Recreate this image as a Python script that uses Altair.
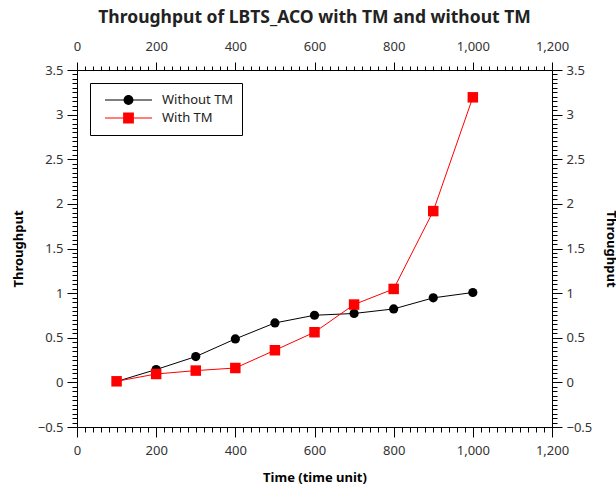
import altair as alt
import pandas as pd

# ---- data ----
times = [100, 200, 300, 400, 500, 600, 700, 800, 900, 1000]
without_tm = [0.01, 0.144, 0.289, 0.487, 0.666, 0.752, 0.772, 0.823, 0.947, 1.007]
with_tm = [0.012, 0.094, 0.132, 0.161, 0.36, 0.562, 0.872, 1.047, 1.919, 3.194]
series_names = ["Without TM", "With TM"]
series_colors = ["black", "red"]

x_ticks = list(range(0, 1201, 20))
y_ticks = [round(-0.5 + 0.05 * i, 2) for i in range(81)]

rows = []
for t, v in zip(times, without_tm):
    rows.append({"time": t, "value": v, "series": series_names[0]})
for t, v in zip(times, with_tm):
    rows.append({"time": t, "value": v, "series": series_names[1]})
df = pd.DataFrame(rows)

FONT = "Noto Sans"
x_scale = alt.Scale(domain=[0, 1200], nice=False, zero=False)
y_scale = alt.Scale(domain=[-0.5, 3.5], nice=False, zero=False)

x_major = "datum.value % 200 === 0"
y_major = "abs(datum.value * 2 - round(datum.value * 2)) < 0.001"


def x_axis(orient, title, major_len, minor_len, label_pad, title_pad):
    return alt.Axis(
        orient=orient,
        values=x_ticks,
        labelExpr=f"{x_major} ? format(datum.value, ',') : ''",
        tickSize={"condition": {"test": x_major, "value": major_len}, "value": minor_len},
        labelOverlap=False,
        labelFlush=False,
        grid=False,
        domainColor="black",
        tickColor="black",
        labelColor="#333333",
        labelFont=FONT,
        labelFontSize=13,
        labelPadding=label_pad,
        title=title,
        titleFont=FONT,
        titleFontSize=13,
        titleFontWeight="bold",
        titleColor="black",
        titlePadding=title_pad,
    )


def y_axis(orient, title):
    return alt.Axis(
        orient=orient,
        values=y_ticks,
        labelExpr=f"{y_major} ? format(datum.value, '~g') : ''",
        tickSize={"condition": {"test": y_major, "value": 10}, "value": 5},
        labelOverlap=False,
        labelFlush=False,
        grid=False,
        domainColor="black",
        tickColor="black",
        labelColor="#333333",
        labelFont=FONT,
        labelFontSize=13,
        labelPadding=4,
        title=title,
        titleFont=FONT,
        titleFontSize=13,
        titleFontWeight="bold",
        titleColor="black",
        titlePadding=12,
    )


base = alt.Chart(df)

layers = []
markers = [("circle", 85), ("square", 110)]
for i, name in enumerate(series_names):
    sub = base.transform_filter(alt.datum.series == name)
    x_ax = x_axis("bottom", "Time (time unit)", 10, 5, 7, 14) if i == 0 else None
    y_ax = y_axis("left", "Throughput") if i == 0 else None
    layers.append(
        sub.mark_line(strokeWidth=1, color=series_colors[i]).encode(
            x=alt.X("time:Q", scale=x_scale, axis=x_ax),
            y=alt.Y("value:Q", scale=y_scale, axis=y_ax),
        )
    )
for i, name in enumerate(series_names):
    sub = base.transform_filter(alt.datum.series == name)
    layers.append(
        sub.mark_point(filled=True, opacity=1, shape=markers[i][0], size=markers[i][1],
                       color=series_colors[i]).encode(
            x=alt.X("time:Q", scale=x_scale, axis=None),
            y=alt.Y("value:Q", scale=y_scale, axis=None),
        )
    )

mirror = base.mark_point(opacity=0).encode(
    x=alt.X("time:Q", scale=x_scale, axis=x_axis("top", None, 8, 4, 9, 4)),
    y=alt.Y("value:Q", scale=y_scale, axis=y_axis("right", "Throughput")),
)
layers.append(mirror)

# legend symbols: a thin filled bar (the line) plus the marker
circle_path = ("M-1,-0.022H1V0.022H-1Z"
               "M0.21,0A0.21,0.21,0,1,1,-0.21,0A0.21,0.21,0,1,1,0.21,0Z")
square_path = ("M-1,-0.022H1V0.022H-1Z"
               "M-0.23,-0.23H0.23V0.23H-0.23Z")


def legend_def():
    return alt.Legend(
        title=None,
        orient="none",
        legendX=13,
        legendY=13,
        strokeColor="black",
        fillColor="white",
        padding=8,
        symbolSize=2209,
        symbolOffset=7,
        symbolStrokeWidth=0,
        symbolOpacity=1,
        clipHeight=18,
        rowPadding=0,
        labelOffset=10,
        labelFont=FONT,
        labelFontSize=13,
        labelColor="#222222",
        cornerRadius=0,
    )


legend_layer = base.transform_filter("datum.time < 0").mark_point(filled=True, opacity=1).encode(
    x=alt.X("time:Q", scale=x_scale, axis=None),
    y=alt.Y("value:Q", scale=y_scale, axis=None),
    color=alt.Color("series:N", scale=alt.Scale(domain=series_names, range=series_colors), legend=legend_def()),
    shape=alt.Shape("series:N", scale=alt.Scale(domain=series_names, range=[circle_path, square_path]), legend=legend_def()),
)
layers.append(legend_layer)

chart = alt.layer(*layers).resolve_axis(
    x="independent", y="independent"
).properties(
    width=475,
    height=357,
    padding={"left": 77, "top": 70, "right": 64, "bottom": 58},
    autosize=alt.AutoSizeParams(type="none"),
    title=alt.TitleParams(
        "Throughput of LBTS_ACO with TM and without TM",
        font=FONT,
        fontSize=17.5,
        fontWeight="bold",
        color="#222222",
        anchor="middle",
        offset=14,
    ),
).configure_view(stroke=None).configure(font=FONT)

chart.save("out.html", embed_options={"renderer": "svg", "actions": False})
